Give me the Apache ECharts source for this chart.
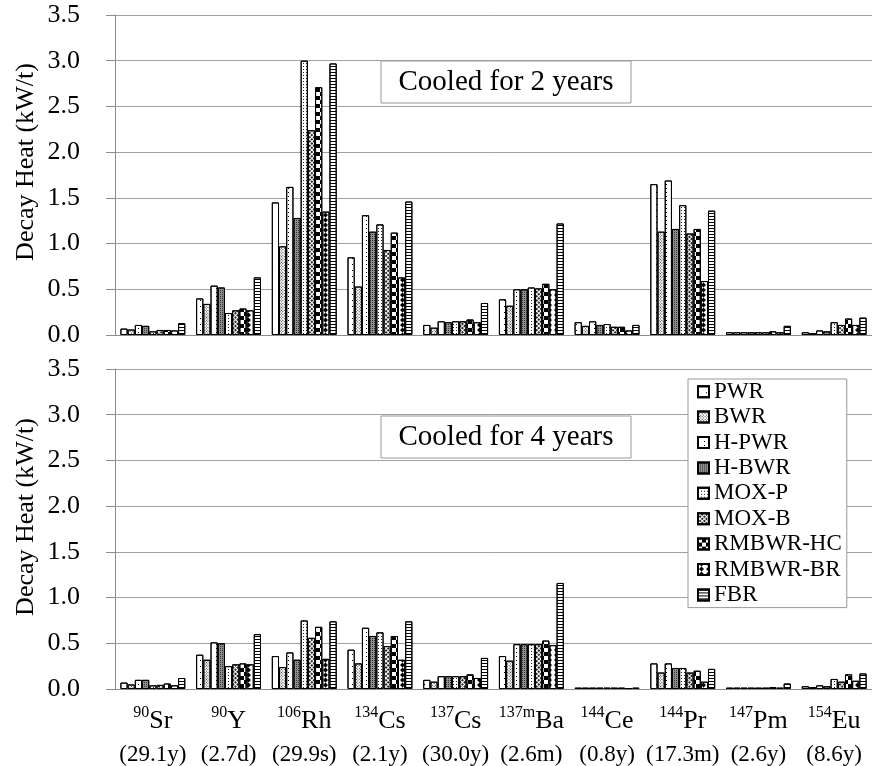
<!DOCTYPE html>
<html>
<head>
<meta charset="utf-8">
<script src="https://cdn.jsdelivr.net/npm/echarts@6/dist/echarts.min.js"></script>
<style>
html, body { margin: 0; padding: 0; background: #fff; }
#main { width: 872px; height: 766px; }
</style>
</head>
<body>
<div id="main"></div>
<script>
// Nuclides on the category axis: mass number, element, half-life
const massNumbers = ['90', '90', '106', '134', '137', '137m', '144', '144', '147', '154'];
const elements = ['Sr', 'Y', 'Rh', 'Cs', 'Cs', 'Ba', 'Ce', 'Pr', 'Pm', 'Eu'];
const halfLives = ['29.1y', '2.7d', '29.9s', '2.1y', '30.0y', '2.6m', '0.8y', '17.3m', '2.6y', '8.6y'];
const categories = massNumbers.map((m, i) => m + elements[i]);

const reactors = ['PWR', 'BWR', 'H-PWR', 'H-BWR', 'MOX-P', 'MOX-B', 'RMBWR-HC', 'RMBWR-BR', 'FBR'];
const yTicks = ['0.0', '0.5', '1.0', '1.5', '2.0', '2.5', '3.0', '3.5'];

// Decay heat (kW/t) after 2 years of cooling
const pwr2y    = [0.07, 0.40, 1.45, 0.85, 0.11, 0.39, 0.14, 1.65, 0.03, 0.03];
const bwr2y    = [0.06, 0.34, 0.97, 0.53, 0.08, 0.32, 0.10, 1.13, 0.03, 0.02];
const hpwr2y   = [0.11, 0.54, 1.62, 1.31, 0.15, 0.50, 0.15, 1.69, 0.03, 0.05];
const hbwr2y   = [0.10, 0.52, 1.28, 1.13, 0.14, 0.50, 0.11, 1.16, 0.03, 0.04];
const moxp2y   = [0.04, 0.24, 3.00, 1.21, 0.15, 0.52, 0.12, 1.42, 0.03, 0.14];
const moxb2y   = [0.055, 0.27, 2.24, 0.93, 0.15, 0.51, 0.09, 1.11, 0.03, 0.11];
const rmbHC2y  = [0.055, 0.29, 2.71, 1.12, 0.17, 0.56, 0.09, 1.16, 0.04, 0.18];
const rmbBR2y  = [0.05, 0.27, 1.35, 0.63, 0.14, 0.50, 0.05, 0.59, 0.03, 0.11];
const fbr2y    = [0.13, 0.63, 2.97, 1.46, 0.35, 1.22, 0.11, 1.36, 0.10, 0.19];

// Decay heat (kW/t) after 4 years of cooling
const pwr4y    = [0.07, 0.375, 0.36, 0.43, 0.10, 0.36, 0.015, 0.28, 0.015, 0.03];
const bwr4y    = [0.05, 0.32, 0.24, 0.28, 0.08, 0.31, 0.015, 0.18, 0.015, 0.02];
const hpwr4y   = [0.10, 0.51, 0.40, 0.67, 0.14, 0.49, 0.015, 0.28, 0.015, 0.04];
const hbwr4y   = [0.10, 0.50, 0.32, 0.58, 0.14, 0.49, 0.015, 0.23, 0.015, 0.03];
const moxp4y   = [0.04, 0.25, 0.75, 0.62, 0.14, 0.49, 0.015, 0.23, 0.015, 0.11];
const moxb4y   = [0.045, 0.27, 0.56, 0.47, 0.14, 0.49, 0.015, 0.18, 0.015, 0.08];
const rmbHC4y  = [0.06, 0.28, 0.68, 0.58, 0.16, 0.53, 0.015, 0.20, 0.02, 0.16];
const rmbBR4y  = [0.04, 0.27, 0.33, 0.32, 0.12, 0.48, 0.01, 0.08, 0.015, 0.09];
const fbr4y    = [0.12, 0.60, 0.74, 0.74, 0.34, 1.16, 0.015, 0.22, 0.06, 0.17];

const cooled2 = [pwr2y, bwr2y, hpwr2y, hbwr2y, moxp2y, moxb2y, rmbHC2y, rmbBR2y, fbr2y];
const cooled4 = [pwr4y, bwr4y, hpwr4y, hbwr4y, moxp4y, moxb4y, rmbHC4y, rmbBR4y, fbr4y];

// Monochrome fill patterns, one per reactor type
const Q = Math.PI / 4;
const fills = [
  { color: '#fff', decal: { symbol: 'rect', symbolSize: 1, color: '#000', dashArrayX: [1, 7], dashArrayY: [1, 5] } },
  { color: '#fff', decal: { symbol: 'rect', symbolSize: 1, color: '#333', dashArrayX: [1, 1], dashArrayY: [1, 1], rotation: Q } },
  { color: '#fff', decal: { symbol: 'rect', symbolSize: 1, color: '#000', dashArrayX: [1, 5], dashArrayY: [1, 3] } },
  { color: '#8f8f8f', decal: { symbol: 'rect', symbolSize: 1, color: '#333', dashArrayX: [1, 1], dashArrayY: [1, 1] } },
  { color: '#fff', decal: { symbol: 'rect', symbolSize: 1, color: '#222', dashArrayX: [1, 2], dashArrayY: [1, 2] } },
  { color: '#fff', decal: { symbol: 'rect', symbolSize: 1, color: '#222', dashArrayX: [2, 1], dashArrayY: [2, 1], rotation: Q } },
  { color: '#fff', decal: { symbol: 'rect', symbolSize: 1, color: '#000', dashArrayX: [[3.6, 3.6], [0, 3.6, 3.6, 0]], dashArrayY: [4, 0] } },
  { color: '#fff', decal: { symbol: 'path://M0,0 L10,0 L5,5 L10,10 L0,10 L5,5 Z', symbolSize: 1, color: '#000', dashArrayX: [7, 0], dashArrayY: [5, 0] } },
  { color: '#fff', decal: { symbol: 'rect', symbolSize: 1, color: '#000', dashArrayX: [1, 0], dashArrayY: [1, 2] } }
];

const serif = '"Liberation Serif", "Times New Roman", serif';
const gridGray = '#a0a0a0';
const axisGray = '#8c8c8c';

function makeXAxis(gridIndex, showLabels) {
  return {
    type: 'category',
    gridIndex: gridIndex,
    data: categories,
    axisLine: { lineStyle: { color: axisGray, width: 1 } },
    axisTick: { inside: true, length: 6, lineStyle: { color: axisGray } },
    axisLabel: {
      show: showLabels,
      interval: 0,
      margin: 16,
      color: '#000',
      fontFamily: serif,
      formatter: (v, i) => '{sup|' + massNumbers[i] + '}{el|' + elements[i] + '}\n{hl|(' + halfLives[i] + ')}',
      rich: {
        sup: { fontSize: 16, fontFamily: serif, color: '#000', verticalAlign: 'top', lineHeight: 30 },
        el: { fontSize: 26, fontFamily: serif, color: '#000', lineHeight: 33 },
        hl: { fontSize: 23, fontFamily: serif, color: '#000', lineHeight: 33 }
      }
    }
  };
}

function makeYAxis(gridIndex) {
  return {
    type: 'value',
    gridIndex: gridIndex,
    min: 0,
    max: 3.5,
    interval: 0.5,
    axisLine: { show: true, lineStyle: { color: axisGray, width: 1 } },
    axisTick: { show: true, length: 9, lineStyle: { color: axisGray } },
    splitLine: { lineStyle: { color: gridGray, width: 1 } },
    axisLabel: {
      margin: 35,
      color: '#000',
      fontSize: 26,
      fontFamily: serif,
      formatter: v => yTicks[Math.round(v / 0.5)]
    }
  };
}

function makeSeries(values, idx, gridIndex) {
  return {
    type: 'bar',
    name: reactors[idx],
    xAxisIndex: gridIndex,
    yAxisIndex: gridIndex,
    data: values,
    barGap: '0%',
    barCategoryGap: '14.3%',
    itemStyle: {
      color: fills[idx].color,
      borderColor: '#000',
      borderWidth: 1,
      decal: fills[idx].decal
    },
    emphasis: { disabled: true }
  };
}

function boxLabel(x, y, w, h, text) {
  return {
    type: 'group',
    z: 100,
    children: [
      { type: 'rect', shape: { x: x, y: y, width: w, height: h }, style: { fill: '#fff', stroke: '#999', lineWidth: 1 } },
      { type: 'text', x: x + w / 2, y: y + h / 2, style: { text: text, font: '29px ' + serif, fill: '#000', align: 'center', verticalAlign: 'middle', textAlign: 'center', textVerticalAlign: 'middle' } }
    ]
  };
}

function axisTitle(y) {
  return {
    type: 'text', z: 100, x: 26, y: y, rotation: Math.PI / 2,
    style: { text: 'Decay Heat (kW/t)', font: '26px ' + serif, fill: '#000', align: 'center', verticalAlign: 'middle', textAlign: 'center', textVerticalAlign: 'middle' }
  };
}

const option = {
  animation: false,
  backgroundColor: '#fff',
  grid: [
    { left: 115, right: 0, top: 15, height: 320 },
    { left: 115, right: 0, top: 369, height: 321 }
  ],
  xAxis: [makeXAxis(0, false), makeXAxis(1, true)],
  yAxis: [makeYAxis(0), makeYAxis(1)],
  legend: {
    data: reactors,
    orient: 'vertical',
    left: 688,
    top: 379,
    padding: [0, 5, 0, 9],
    itemWidth: 11,
    itemHeight: 11,
    itemGap: 0,
    icon: 'rect',
    borderColor: '#999',
    borderWidth: 1,
    backgroundColor: '#fff',
    selectedMode: false,
    textStyle: { fontSize: 23, lineHeight: 25.4, fontFamily: serif, color: '#000' },
    z: 100
  },
  graphic: [
    axisTitle(162),
    axisTitle(517),
    boxLabel(381, 61, 250, 42, 'Cooled for 2 years'),
    boxLabel(381, 416, 250, 42, 'Cooled for 4 years')
  ],
  series: [
    ...cooled2.map((vals, i) => makeSeries(vals, i, 0)),
    ...cooled4.map((vals, i) => makeSeries(vals, i, 1))
  ]
};

const chart = echarts.init(document.getElementById('main'), null, { renderer: 'canvas' });
chart.setOption(option);
</script>
</body>
</html>
